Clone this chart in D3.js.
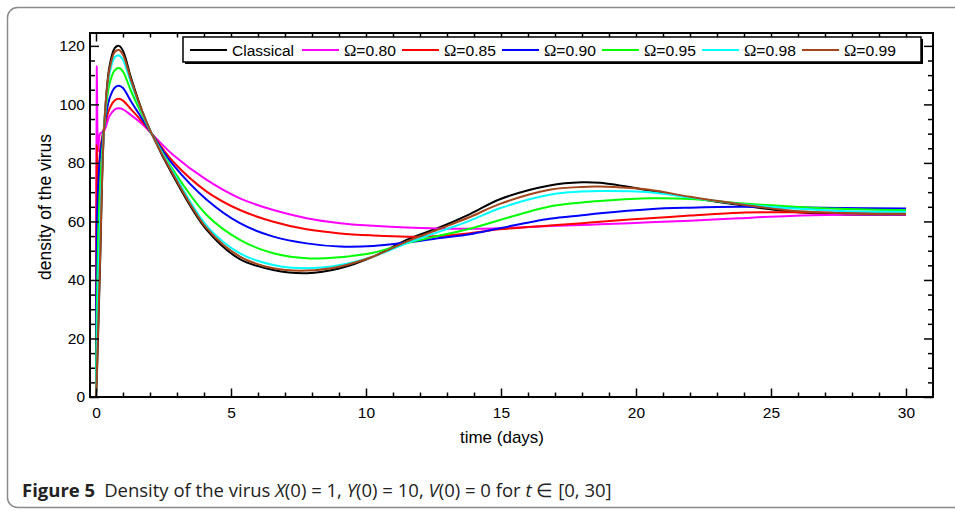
<!DOCTYPE html>
<html>
<head>
<meta charset="utf-8">
<script src="https://cdn.jsdelivr.net/npm/d3@7"></script>
<style>
  body { margin: 0; background: #fff; }
  svg { display: block; }
</style>
</head>
<body>
<div id="chart"></div>
<script>
// time samples (days)
const times = [0, 0.03, 0.08, 0.15, 0.3, 0.5, 0.7, 0.85, 1.0, 1.3, 1.7, 2.06, 2.86, 4.1, 5.33, 6.57, 7.8, 9.04, 10.27, 11.5, 12.74, 13.85, 14.96, 16.8, 18, 18.67, 20.5, 22, 23.85, 25.7, 27.56, 30];

// density of the virus for each model
const classical = [0, 6, 22, 45, 92, 113, 119.3, 120, 118.3, 109, 98, 90, 75.5, 57.1, 47.1, 43.4, 42.3, 44, 48, 53.7, 58, 62.5, 67.6, 72.3, 73.4, 73.2, 70.6, 68.2, 65.6, 63.4, 62.4, 62.3];
const omega080 = [0, 113, 84, 90, 91, 96, 98.3, 98.7, 98.3, 96.3, 93.4, 90, 82.7, 74.2, 67.9, 63.9, 61.1, 59.4, 58.5, 57.9, 57.6, 57.5, 57.7, 58.4, 58.8, 59, 59.7, 60.2, 61.1, 61.9, 62.3, 62.4];
const omega085 = [0, 86, 60, 84, 92, 98.5, 101.4, 101.9, 101.3, 98.3, 94.2, 90, 80.4, 70.2, 63.9, 59.9, 57.3, 55.9, 55.2, 54.8, 55, 56, 57.3, 58.6, 59.4, 59.9, 61.1, 62, 63, 63.1, 63, 62.8];
const omega090 = [0, 57, 72, 82, 92, 102, 105.8, 106.4, 105.6, 101, 95.2, 90, 79.3, 67.4, 59.4, 54.8, 52.5, 51.4, 51.6, 52.8, 54.3, 55.6, 57.7, 60.9, 62.1, 62.8, 64.2, 64.7, 65, 64.8, 64.6, 64.4];
const omega095 = [0, 30, 55, 72, 92, 107, 111.7, 112.4, 111.2, 104.5, 96.6, 90, 77.6, 62.2, 53.7, 49.1, 47.4, 47.8, 49.3, 52.5, 55.2, 57.5, 60.5, 65.1, 66.5, 67, 67.9, 67.7, 66.2, 65.1, 64.3, 63.8];
const omega098 = [0, 15, 38, 60, 92, 110.5, 116.2, 116.7, 115.2, 107.2, 97.4, 90, 76.8, 58.5, 49.1, 45.1, 44, 45.1, 48, 52.5, 56.6, 60.3, 64.5, 69.1, 70.2, 70.4, 70, 68.2, 66, 64.5, 63.6, 63.3];
const omega099 = [0, 8, 24, 47, 92, 112, 118, 118.6, 117, 108.3, 97.8, 90, 76, 57.7, 48, 44, 43.2, 44.6, 48, 53.1, 57.5, 61.5, 66, 70.8, 71.8, 71.9, 70.8, 68.4, 65.9, 63.7, 62.8, 62.5];

const seriesNames = ['Classical', 'Ω=0.80', 'Ω=0.85', 'Ω=0.90', 'Ω=0.95', 'Ω=0.98', 'Ω=0.99'];
const seriesValues = [classical, omega080, omega085, omega090, omega095, omega098, omega099];
const seriesColors = ['#000000', '#ff00ff', '#ff0000', '#0000ff', '#00ff00', '#00ffff', '#a4461c'];

const xMajorTicks = [0, 5, 10, 15, 20, 25, 30];
const yMajorTicks = [0, 20, 40, 60, 80, 100, 120];

const width = 955;
const height = 515;
const axisFont = '"Liberation Sans", Arial, sans-serif';

const svg = d3.select('#chart')
  .append('svg')
  .attr('width', width)
  .attr('height', height);

// rounded figure border
svg.append('rect')
  .attr('x', 7.5)
  .attr('y', 7.5)
  .attr('width', 970)
  .attr('height', 500)
  .attr('rx', 10)
  .attr('fill', 'none')
  .attr('stroke', '#8a8a8a')
  .attr('stroke-width', 1.5);

// plot frame
const frameLeft = 90, frameRight = 933, frameTop = 33, frameBottom = 397;

const x = d3.scaleLinear().domain([-0.222, 31]).range([frameLeft, frameRight]);
const y = d3.scaleLinear().domain([0, 124.4]).range([frameBottom, frameTop]);

const plot = svg.append('g');

// clip curves to the frame
svg.append('clipPath')
  .attr('id', 'clip')
  .append('rect')
  .attr('x', frameLeft)
  .attr('y', frameTop)
  .attr('width', frameRight - frameLeft)
  .attr('height', frameBottom - frameTop);

const line = d3.line()
  .x((d) => x(d[0]))
  .y((d) => y(d[1]))
  .curve(d3.curveCatmullRom.alpha(0.5));

const curves = plot.append('g').attr('clip-path', 'url(#clip)');
seriesValues.forEach((vals, i) => {
  curves.append('path')
    .datum(times.map((t, j) => [t, vals[j]]))
    .attr('d', line)
    .attr('fill', 'none')
    .attr('stroke', seriesColors[i])
    .attr('stroke-width', 2)
    .attr('stroke-linejoin', 'round');
});

// axes with inward ticks, minor every 1 day / 5 units
const xMinor = d3.range(0, 31).filter((v) => v % 5 !== 0);
const yMinor = d3.range(0, 125, 5).filter((v) => v % 20 !== 0);

function styleAxis(g) {
  g.select('.domain').remove();
  g.selectAll('line').attr('stroke', '#000').attr('stroke-width', 1.5);
  g.selectAll('text')
    .attr('font-family', axisFont)
    .attr('font-size', 15.5)
    .attr('fill', '#000');
}

plot.append('g')
  .attr('transform', `translate(0,${frameBottom})`)
  .call(d3.axisBottom(x).tickValues(xMajorTicks).tickSize(-8.5).tickPadding(10).tickFormat(d3.format('d')))
  .call(styleAxis);
plot.append('g')
  .attr('transform', `translate(0,${frameBottom})`)
  .call(d3.axisBottom(x).tickValues(xMinor).tickSize(-4.5).tickFormat(''))
  .call(styleAxis);
plot.append('g')
  .attr('transform', `translate(0,${frameTop})`)
  .call(d3.axisTop(x).tickValues(xMajorTicks).tickSize(-8.5).tickFormat(''))
  .call(styleAxis);
plot.append('g')
  .attr('transform', `translate(0,${frameTop})`)
  .call(d3.axisTop(x).tickValues(xMinor).tickSize(-4.5).tickFormat(''))
  .call(styleAxis);

plot.append('g')
  .attr('transform', `translate(${frameLeft},0)`)
  .call(d3.axisLeft(y).tickValues(yMajorTicks).tickSize(-9).tickPadding(5).tickFormat(d3.format('d')))
  .call(styleAxis);
plot.append('g')
  .attr('transform', `translate(${frameLeft},0)`)
  .call(d3.axisLeft(y).tickValues(yMinor).tickSize(-5).tickFormat(''))
  .call(styleAxis);
plot.append('g')
  .attr('transform', `translate(${frameRight},0)`)
  .call(d3.axisRight(y).tickValues(yMajorTicks).tickSize(-9).tickFormat(''))
  .call(styleAxis);
plot.append('g')
  .attr('transform', `translate(${frameRight},0)`)
  .call(d3.axisRight(y).tickValues(yMinor).tickSize(-5).tickFormat(''))
  .call(styleAxis);

plot.append('rect')
  .attr('x', frameLeft)
  .attr('y', frameTop)
  .attr('width', frameRight - frameLeft)
  .attr('height', frameBottom - frameTop)
  .attr('fill', 'none')
  .attr('stroke', '#000')
  .attr('stroke-width', 2);

// axis titles
svg.append('text')
  .attr('x', (x(0) + x(30)) / 2 + 1)
  .attr('y', 443)
  .attr('text-anchor', 'middle')
  .attr('font-family', axisFont)
  .attr('font-size', 17)
  .text('time (days)');

svg.append('text')
  .attr('transform', 'translate(51,207) rotate(-90)')
  .attr('text-anchor', 'middle')
  .attr('font-family', axisFont)
  .attr('font-size', 17.5)
  .text('density of the virus');

// legend
const legend = svg.append('g');
const legendBox = { x: 183, y: 37, w: 738, h: 25 };
legend.append('rect')
  .attr('x', legendBox.x + 2)
  .attr('y', legendBox.y + 2)
  .attr('width', legendBox.w)
  .attr('height', legendBox.h)
  .attr('fill', '#000');
legend.append('rect')
  .attr('x', legendBox.x)
  .attr('y', legendBox.y)
  .attr('width', legendBox.w)
  .attr('height', legendBox.h)
  .attr('fill', '#fff')
  .attr('stroke', '#000')
  .attr('stroke-width', 1.5);

seriesNames.forEach((name, i) => {
  const x0 = i === 0 ? 190 : 302 + (i - 1) * 100;
  legend.append('line')
    .attr('x1', x0)
    .attr('x2', x0 + 37)
    .attr('y1', 50)
    .attr('y2', 50)
    .attr('stroke', seriesColors[i])
    .attr('stroke-width', 2);
  const label = legend.append('text')
    .attr('x', x0 + 42)
    .attr('y', 55.5)
    .attr('font-family', axisFont)
    .attr('font-size', 15.5)
    .attr('textLength', i === 0 ? 62 : 52)
    .attr('lengthAdjust', 'spacingAndGlyphs');
  if (name.startsWith('Ω')) {
    label.append('tspan').attr('font-family', '"Liberation Serif", serif').attr('font-size', 16.5).text('Ω');
    label.append('tspan').text(name.slice(1));
  } else {
    label.text(name);
  }
});

// caption
const caption = svg.append('text')
  .attr('x', 22)
  .attr('y', 497)
  .attr('font-family', '"Open Sans", "Noto Sans", sans-serif')
  .attr('font-size', 18.5)
  .attr('fill', '#222');
caption.append('tspan').attr('font-weight', 'bold').text('Figure 5');
caption.append('tspan').attr('dx', 9).text('Density of the virus ');
caption.append('tspan').attr('font-style', 'italic').text('X');
caption.append('tspan').text('(0) = 1, ');
caption.append('tspan').attr('font-style', 'italic').text('Y');
caption.append('tspan').text('(0) = 10, ');
caption.append('tspan').attr('font-style', 'italic').text('V');
caption.append('tspan').text('(0) = 0 for ');
caption.append('tspan').attr('font-style', 'italic').text('t');
caption.append('tspan').text(' ∈ [0, 30]');
</script>
</body>
</html>
